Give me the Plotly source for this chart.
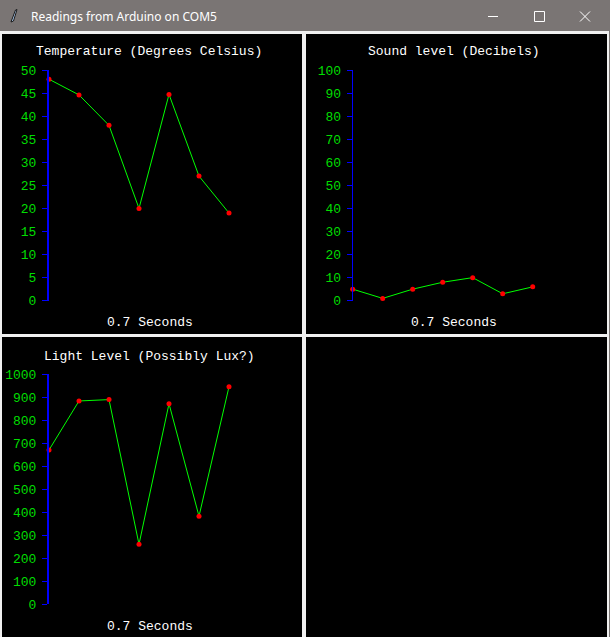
import plotly.graph_objects as go

# ---- data ----
samples = [0, 1, 2, 3, 4, 5, 6]
temperature = [48, 44.6, 38, 20, 44.7, 27, 19]
sound = [5, 1, 5, 8, 10, 3, 6]
light = [671, 884, 890, 261, 872, 383, 946]

temp_ticks = list(range(0, 51, 5))
sound_ticks = list(range(0, 101, 10))
light_ticks = list(range(0, 1001, 100))

titles = ["Temperature (Degrees Celsius)", "Sound level (Decibels)", "Light Level (Possibly Lux?)"]
xlabel = "0.7 Seconds"
window_title = "Readings from Arduino on COM5"

W, H = 610, 637
def fx(px):
    return px / W
def fy(py):
    return 1 - py / H

MONO = "Liberation Mono, Courier New, monospace"
GREEN_TXT = "#00dd00"

fig = go.Figure()

panels = [
    # (xaxis id, yaxis id, data, ticks, x0px, ytop px, ybottom px, ymax, linewidth)
    ("x", "y", temperature, temp_ticks, 49, 70, 300.7, 50, 2),
    ("x2", "y2", sound, sound_ticks, 352.7, 70, 300.7, 100, 1),
    ("x3", "y3", light, light_ticks, 49, 374.3, 604.3, 1000, 2),
]

layout_axes = {}
for i, (xa, ya, vals, ticks, x0, yt, yb, ymax, lw) in enumerate(panels):
    fig.add_trace(go.Scatter(
        x=samples, y=vals, xaxis=xa, yaxis=ya, mode="lines",
        line=dict(color="#00ff00", width=1), cliponaxis=False,
        showlegend=False, hoverinfo="skip"))
    fig.add_trace(go.Scatter(
        x=samples, y=vals, xaxis=xa, yaxis=ya, mode="markers",
        marker=dict(color="#ff0000", size=5), cliponaxis=False,
        showlegend=False, hoverinfo="skip"))
    xname = "xaxis" if xa == "x" else "xaxis" + xa[1:]
    yname = "yaxis" if ya == "y" else "yaxis" + ya[1:]
    layout_axes[xname] = dict(
        domain=[fx(x0), fx(x0 + 180)], range=[0, 6], visible=False,
        anchor=ya, fixedrange=True, automargin=False)
    layout_axes[yname] = dict(
        domain=[fy(yb), fy(yt)], range=[0, ymax], anchor=xa,
        showline=True, linecolor="#0000ff", linewidth=lw,
        ticks="outside", ticklen=5, tickcolor="#0000ff", tickwidth=1,
        ticklabelstandoff=3,
        tickvals=ticks, ticktext=[str(t) for t in ticks],
        tickfont=dict(family=MONO, size=13, color=GREEN_TXT),
        showgrid=False, zeroline=False, fixedrange=True, automargin=False)

shapes = []
# title bar
shapes.append(dict(type="rect", xref="paper", yref="paper", x0=0, x1=1,
                   y0=fy(31), y1=1, fillcolor="#7a7574", line=dict(width=0), layer="below"))
# right window edge
shapes.append(dict(type="rect", xref="paper", yref="paper", x0=fx(609), x1=1,
                   y0=0, y1=fy(31), fillcolor="#7a7574", line=dict(width=0), layer="below"))
# black canvases
for (a, b, c, d) in [(2, 302, 34, 334), (306, 607, 34, 334), (2, 302, 337, 637), (306, 607, 337, 637)]:
    shapes.append(dict(type="rect", xref="paper", yref="paper", x0=fx(a), x1=fx(b),
                       y0=fy(d), y1=fy(c), fillcolor="#000000", line=dict(width=0), layer="below"))
# window controls
wc = dict(color="#ffffff", width=1)
shapes.append(dict(type="line", xref="paper", yref="paper", x0=fx(488), x1=fx(498),
                   y0=fy(16.5), y1=fy(16.5), line=wc))
shapes.append(dict(type="rect", xref="paper", yref="paper", x0=fx(534.5), x1=fx(544.5),
                   y0=fy(21.5), y1=fy(11.5), line=wc))
shapes.append(dict(type="line", xref="paper", yref="paper", x0=fx(580), x1=fx(590),
                   y0=fy(11.5), y1=fy(21.5), line=wc))
shapes.append(dict(type="line", xref="paper", yref="paper", x0=fx(580), x1=fx(590),
                   y0=fy(21.5), y1=fy(11.5), line=wc))
# feather icon
def P(px, py):
    return f"{fx(px):.5f},{fy(py):.5f}"
feather = "M " + P(11, 22) + " L " + P(15.5, 10) + " L " + P(17, 9.5) + " L " + P(13.5, 21) + " Z"
shapes.append(dict(type="path", xref="paper", yref="paper", path=feather,
                   fillcolor="#a9c8ec", line=dict(color="#1a1a1a", width=1)))

annotations = [
    dict(text=window_title, x=fx(29), y=fy(16), xref="paper", yref="paper",
         xanchor="left", yanchor="middle", showarrow=False,
         font=dict(family="Noto Sans, Open Sans, sans-serif", size=12, color="#ffffff")),
]
title_pos = [(149, 51.7, 322.3), (453.5, 51.7, 322.3), (149, 356.3, 626)]
for t, (cx, ty, ly) in zip(titles, title_pos):
    annotations.append(dict(text=t, x=fx(cx), y=fy(ty), xref="paper", yref="paper",
                            xanchor="center", yanchor="middle", showarrow=False,
                            font=dict(family=MONO, size=13, color="#ffffff")))
    annotations.append(dict(text=xlabel, x=fx(cx + 0.5), y=fy(ly), xref="paper", yref="paper",
                            xanchor="center", yanchor="middle", showarrow=False,
                            font=dict(family=MONO, size=13, color="#ffffff")))

fig.update_layout(
    width=W, height=H, margin=dict(l=0, r=0, t=0, b=0, pad=0, autoexpand=False),
    paper_bgcolor="#f0f0f0", plot_bgcolor="rgba(0,0,0,0)",
    shapes=shapes, annotations=annotations, showlegend=False,
    **layout_axes)

fig.write_html("out.html", config={"displayModeBar": False})
